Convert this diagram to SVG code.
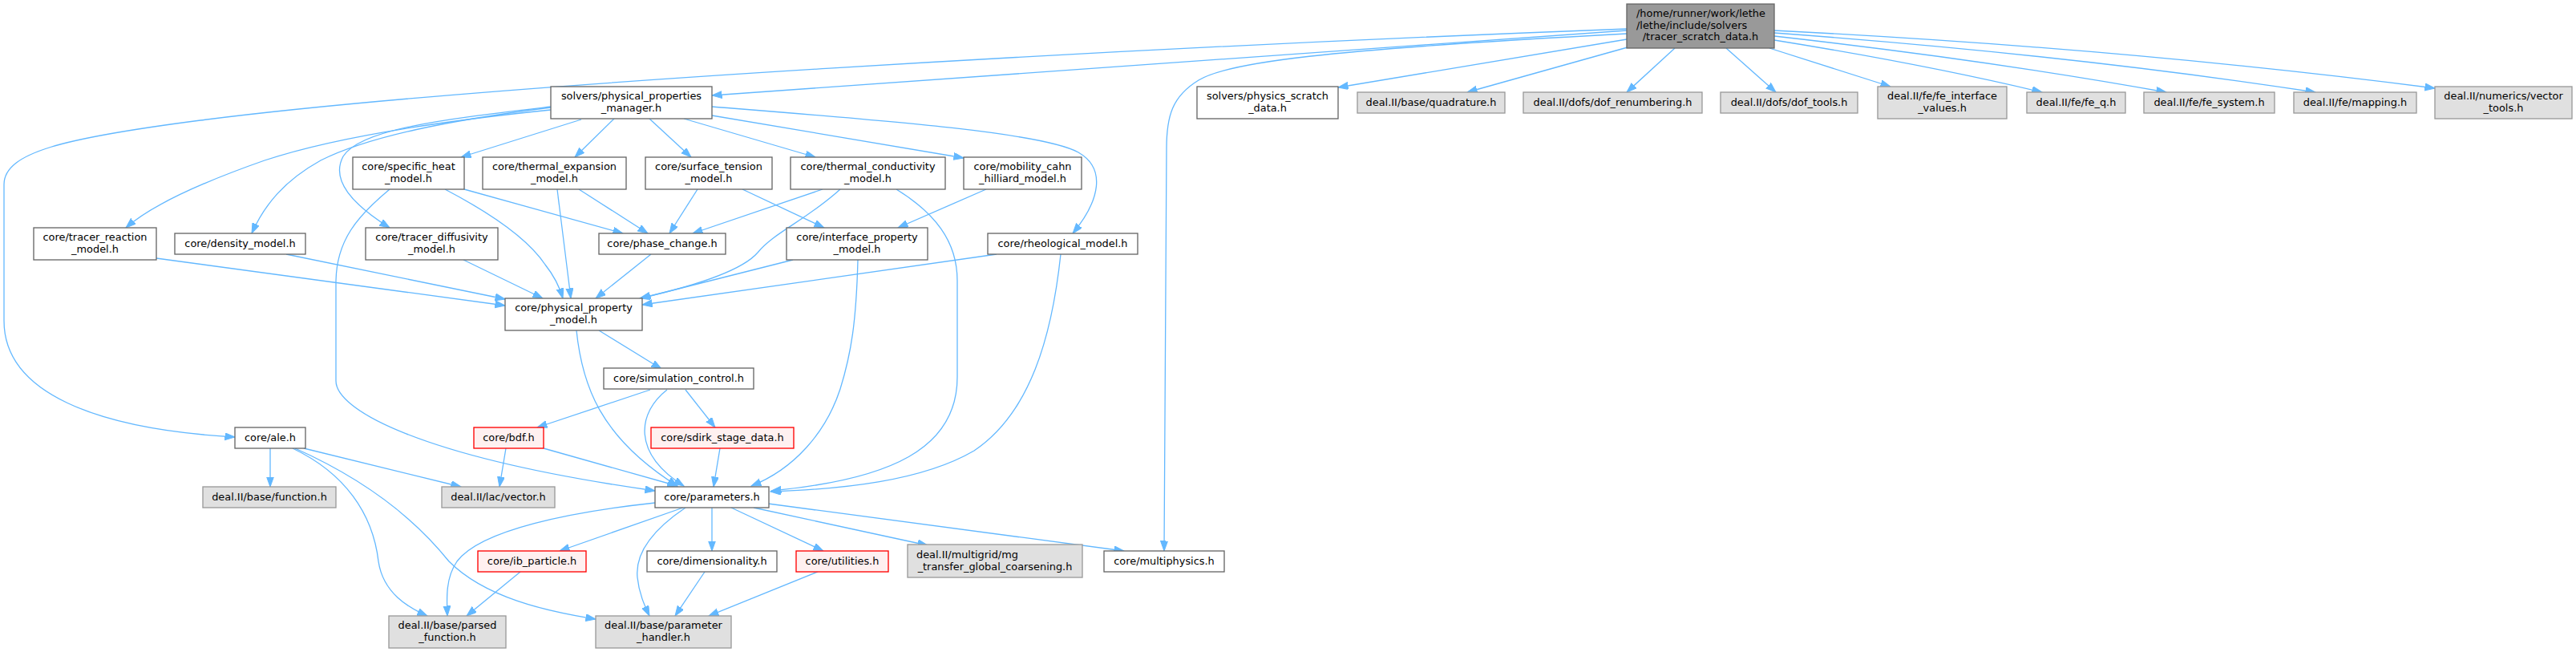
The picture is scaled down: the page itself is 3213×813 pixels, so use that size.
<svg xmlns="http://www.w3.org/2000/svg" width="3213" height="813" viewBox="0 0 3213 813">
<style>
rect{stroke-width:1.33}
.w{fill:#fff;stroke:#666}
.g{fill:#e0e0e0;stroke:#999}
.r{fill:#fff0f0;stroke:#f00}
.t{fill:#999;stroke:#666}
text{font-family:"DejaVu Sans","Liberation Sans",sans-serif;font-size:12.9px;fill:#000;text-anchor:middle}
text.s{text-anchor:start}
#edges path{fill:none;stroke:#63b8ff;stroke-width:1.3;marker-end:url(#ah)}
</style>
<defs>
<marker id="ah" markerUnits="userSpaceOnUse" markerWidth="14" markerHeight="10" refX="12.5" refY="4.5" orient="auto">
<path d="M0,0 L12.5,4.5 L0,9 Z" fill="#63b8ff" stroke="#63b8ff" stroke-width="1"/>
</marker>
</defs>
<rect width="3213" height="813" fill="#fff"/>
<g id="edges">
<path d="M2029,38 C1700,58 1300,90 888,119"/>
<path d="M2029,36 C1400,60 600,105 250,150 C80,172 5,190 5,230 L5,400 C5,490 120,535 293,545"/>
<path d="M2029,42 C1650,62 1530,78 1495,100 C1462,120 1455,145 1455,185 L1452,687"/>
<path d="M2029,49 L1669,109"/>
<path d="M2030,59 L1830,115"/>
<path d="M2089,60 L2029,115"/>
<path d="M2153,60 L2215,115"/>
<path d="M2207,60 L2358,108"/>
<path d="M2213,50 Q2400,80 2547,115"/>
<path d="M2213,45 Q2480,75 2702,115"/>
<path d="M2213,41 Q2580,68 2888,115"/>
<path d="M2213,38 Q2650,60 3037,110"/>
<path d="M687,137 C560,150 420,170 330,200 C250,228 190,255 157,284"/>
<path d="M687,134 C560,150 460,170 400,200 C355,225 330,255 314,291"/>
<path d="M687,133 C560,148 450,160 428,195 C412,225 440,255 486,284"/>
<path d="M725,149 L575,196"/>
<path d="M766,148 L717,196"/>
<path d="M810,148 L862,196"/>
<path d="M853,148 L1017,196"/>
<path d="M888,144 L1202,197"/>
<path d="M888,133 C1100,150 1300,165 1345,190 C1380,210 1372,250 1338,291"/>
<path d="M579,236 L777,291"/>
<path d="M555,236 C620,270 660,300 680,330 C692,345 698,358 702,372"/>
<path d="M486,236 C445,270 420,300 419,350 L419,475 C419,510 520,570 817,612"/>
<path d="M722,236 L808,291"/>
<path d="M695,236 L712,372"/>
<path d="M870,236 L835,291"/>
<path d="M926,236 L1028,284"/>
<path d="M1026,236 L864,291"/>
<path d="M1048,236 C1005,275 965,290 945,315 C925,338 860,358 798,372"/>
<path d="M1118,236 C1165,265 1194,300 1194,350 L1194,470 C1194,560 1110,598 962,612"/>
<path d="M1230,236 L1120,284"/>
<path d="M195,322 L630,381"/>
<path d="M357,317 L630,373"/>
<path d="M578,324 L677,372"/>
<path d="M812,317 L743,372"/>
<path d="M989,324 L799,372"/>
<path d="M1070,324 C1068,400 1062,440 1048,485 C1030,540 990,585 937,606"/>
<path d="M1243,317 L801,380"/>
<path d="M1323,317 C1312,420 1285,515 1215,562 C1150,600 1050,610 961,613"/>
<path d="M747,412 L825,460"/>
<path d="M719,412 C726,480 748,545 845,606"/>
<path d="M811,486 L670,533"/>
<path d="M855,486 L892,533"/>
<path d="M832,486 C795,515 788,565 853,606"/>
<path d="M631,559 L623,607"/>
<path d="M678,559 L845,606"/>
<path d="M898,559 L890,607"/>
<path d="M337,559 L337,607"/>
<path d="M379,559 L575,607"/>
<path d="M365,559 C430,590 465,640 472,700 C478,740 510,758 533,768"/>
<path d="M368,559 C460,600 520,650 560,700 C605,745 680,762 743,772"/>
<path d="M817,627 C715,638 600,660 570,700 C556,720 557,745 558,768"/>
<path d="M852,633 L698,687"/>
<path d="M855,633 C815,660 792,690 795,720 C797,740 804,755 810,768"/>
<path d="M888,633 L888,687"/>
<path d="M912,633 L1027,687"/>
<path d="M940,633 L1157,680"/>
<path d="M958,628 L1402,687"/>
<path d="M649,713 L582,768"/>
<path d="M879,713 L842,768"/>
<path d="M1020,713 L884,768"/>
</g>
<g id="n_top"><rect class="t" x="2029" y="5" width="184" height="55"/><text class="s" x="2041" y="21">/home/runner/work/lethe</text><text class="s" x="2041" y="35.7">/lethe/include/solvers</text><text x="2121" y="50.4">/tracer_scratch_data.h</text></g>
<g id="n_ppm"><rect class="w" x="687" y="108" width="201" height="40"/><text x="787.5" y="124.4">solvers/physical_properties</text><text x="787.5" y="138.8">_manager.h</text></g>
<g id="n_physics_scratch"><rect class="w" x="1493" y="108" width="176" height="40"/><text x="1581" y="124.4">solvers/physics_scratch</text><text x="1581" y="138.8">_data.h</text></g>
<g id="n_quadrature"><rect class="g" x="1693" y="115" width="184" height="26"/><text x="1785" y="132">deal.II/base/quadrature.h</text></g>
<g id="n_dof_renumbering"><rect class="g" x="1900" y="115" width="223" height="26"/><text x="2011.5" y="132">deal.II/dofs/dof_renumbering.h</text></g>
<g id="n_dof_tools"><rect class="g" x="2146" y="115" width="171" height="26"/><text x="2231.5" y="132">deal.II/dofs/dof_tools.h</text></g>
<g id="n_fe_interface"><rect class="g" x="2342" y="108" width="161" height="40"/><text x="2422.5" y="124.4">deal.II/fe/fe_interface</text><text x="2422.5" y="138.8">_values.h</text></g>
<g id="n_fe_q"><rect class="g" x="2528" y="115" width="123" height="26"/><text x="2589.5" y="132">deal.II/fe/fe_q.h</text></g>
<g id="n_fe_system"><rect class="g" x="2674" y="115" width="163" height="26"/><text x="2755.5" y="132">deal.II/fe/fe_system.h</text></g>
<g id="n_mapping"><rect class="g" x="2861" y="115" width="153" height="26"/><text x="2937.5" y="132">deal.II/fe/mapping.h</text></g>
<g id="n_vector_tools"><rect class="g" x="3037" y="108" width="171" height="40"/><text x="3122.5" y="124.4">deal.II/numerics/vector</text><text x="3122.5" y="138.8">_tools.h</text></g>
<g id="n_specific_heat"><rect class="w" x="440" y="196" width="139" height="40"/><text x="509.5" y="212.4">core/specific_heat</text><text x="509.5" y="226.8">_model.h</text></g>
<g id="n_thermal_expansion"><rect class="w" x="602" y="196" width="179" height="40"/><text x="691.5" y="212.4">core/thermal_expansion</text><text x="691.5" y="226.8">_model.h</text></g>
<g id="n_surface_tension"><rect class="w" x="805" y="196" width="158" height="40"/><text x="884" y="212.4">core/surface_tension</text><text x="884" y="226.8">_model.h</text></g>
<g id="n_thermal_conductivity"><rect class="w" x="986" y="196" width="193" height="40"/><text x="1082.5" y="212.4">core/thermal_conductivity</text><text x="1082.5" y="226.8">_model.h</text></g>
<g id="n_mobility"><rect class="w" x="1202" y="196" width="147" height="40"/><text x="1275.5" y="212.4">core/mobility_cahn</text><text x="1275.5" y="226.8">_hilliard_model.h</text></g>
<g id="n_tracer_reaction"><rect class="w" x="42" y="284" width="153" height="40"/><text x="118.5" y="300.4">core/tracer_reaction</text><text x="118.5" y="314.8">_model.h</text></g>
<g id="n_density"><rect class="w" x="218" y="291" width="163" height="26"/><text x="299.5" y="308">core/density_model.h</text></g>
<g id="n_tracer_diffusivity"><rect class="w" x="456" y="284" width="165" height="40"/><text x="538.5" y="300.4">core/tracer_diffusivity</text><text x="538.5" y="314.8">_model.h</text></g>
<g id="n_phase_change"><rect class="w" x="747" y="291" width="158" height="26"/><text x="826" y="308">core/phase_change.h</text></g>
<g id="n_interface_property"><rect class="w" x="981" y="284" width="176" height="40"/><text x="1069" y="300.4">core/interface_property</text><text x="1069" y="314.8">_model.h</text></g>
<g id="n_rheological"><rect class="w" x="1232" y="291" width="187" height="26"/><text x="1325.5" y="308">core/rheological_model.h</text></g>
<g id="n_physical_property_model"><rect class="w" x="630" y="372" width="171" height="40"/><text x="715.5" y="388.4">core/physical_property</text><text x="715.5" y="402.8">_model.h</text></g>
<g id="n_simulation_control"><rect class="w" x="753" y="459" width="187" height="26"/><text x="846.5" y="476">core/simulation_control.h</text></g>
<g id="n_ale"><rect class="w" x="293" y="533" width="88" height="26"/><text x="337" y="550">core/ale.h</text></g>
<g id="n_bdf"><rect class="r" x="591" y="533" width="87" height="26"/><text x="634.5" y="550">core/bdf.h</text></g>
<g id="n_sdirk"><rect class="r" x="812" y="533" width="178" height="26"/><text x="901" y="550">core/sdirk_stage_data.h</text></g>
<g id="n_function"><rect class="g" x="253" y="607" width="166" height="26"/><text x="336" y="624">deal.II/base/function.h</text></g>
<g id="n_vector"><rect class="g" x="551" y="607" width="141" height="26"/><text x="621.5" y="624">deal.II/lac/vector.h</text></g>
<g id="n_parameters"><rect class="w" x="817" y="607" width="142" height="26"/><text x="888" y="624">core/parameters.h</text></g>
<g id="n_ib_particle"><rect class="r" x="596" y="687" width="135" height="26"/><text x="663.5" y="704">core/ib_particle.h</text></g>
<g id="n_dimensionality"><rect class="w" x="807" y="687" width="162" height="26"/><text x="888" y="704">core/dimensionality.h</text></g>
<g id="n_utilities"><rect class="r" x="993" y="687" width="115" height="26"/><text x="1050.5" y="704">core/utilities.h</text></g>
<g id="n_mg"><rect class="g" x="1132" y="679" width="218" height="41"/><text class="s" x="1143" y="696">deal.II/multigrid/mg</text><text x="1241" y="710.5">_transfer_global_coarsening.h</text></g>
<g id="n_multiphysics"><rect class="w" x="1377" y="687" width="150" height="26"/><text x="1452" y="704">core/multiphysics.h</text></g>
<g id="n_parsed_function"><rect class="g" x="485" y="768" width="146" height="40"/><text x="558" y="784.4">deal.II/base/parsed</text><text x="558" y="798.8">_function.h</text></g>
<g id="n_parameter_handler"><rect class="g" x="743" y="768" width="169" height="40"/><text x="827.5" y="784.4">deal.II/base/parameter</text><text x="827.5" y="798.8">_handler.h</text></g>
</svg>
